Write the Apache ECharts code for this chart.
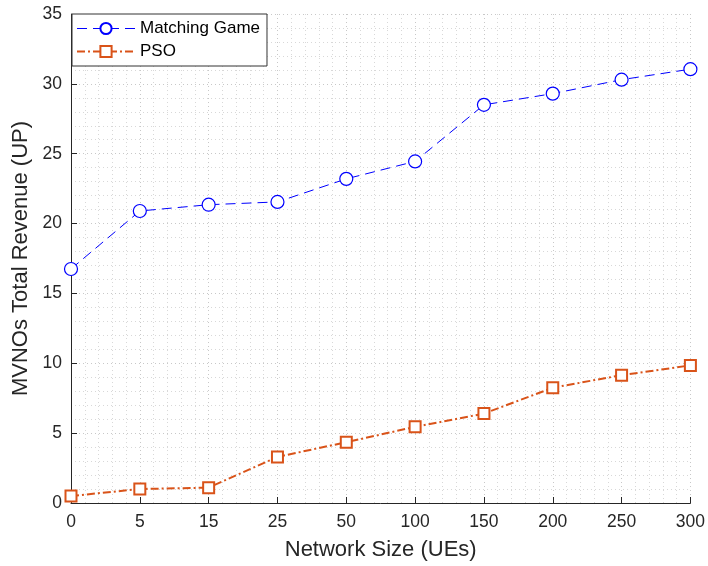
<!DOCTYPE html>
<html><head><meta charset="utf-8">
<script src="https://cdn.jsdelivr.net/npm/echarts@6/dist/echarts.min.js"></script>
<style>html,body{margin:0;padding:0;background:#fff}#c{width:708px;height:566px}</style>
</head><body><div id="c"></div>
<script>
const categories = ['0','5','15','25','50','100','150','200','250','300'];
const matchingGame = [16.75, 20.9, 21.35, 21.55, 23.2, 24.45, 28.5, 29.3, 30.3, 31.05];
const pso = [0.5, 1.0, 1.1, 3.3, 4.35, 5.45, 6.4, 8.25, 9.15, 9.85];
const yTicks = [0, 5, 10, 15, 20, 25, 30, 35];

const pair = arr => arr.map((v, i) => [i, v]);
const font = 'Liberation Sans, Arial, sans-serif';
const chart = echarts.init(document.getElementById('c'));
chart.setOption({
  animation: false,
  backgroundColor: '#fff',
  grid: { left: 71, right: 14, top: 14, bottom: 63, containLabel: false },
  legend: {
    left: 72, top: 14, orient: 'vertical',
    backgroundColor: '#fff', borderColor: '#333', borderWidth: 1,
    padding: [6, 7, 6, 4], itemGap: 6, itemWidth: 58, itemHeight: 14,
    textStyle: { fontFamily: font, fontSize: 17, color: '#000' },
    data: [
      { name: 'Matching Game', lineStyle: { width: 1, type: [10, 6] } },
      { name: 'PSO', lineStyle: { width: 2, type: [8, 3, 2, 3] } }
    ]
  },
  xAxis: {
    type: 'value', min: 0, max: categories.length - 1, interval: 1,
    name: 'Network Size (UEs)', nameLocation: 'middle', nameGap: 36,
    nameTextStyle: { fontFamily: font, fontSize: 22, color: '#262626' },
    axisLine: { onZero: false, lineStyle: { color: '#262626', width: 1 } },
    axisTick: { inside: true, length: 6, lineStyle: { color: '#262626' } },
    axisLabel: { fontFamily: font, fontSize: 17.5, color: '#262626', margin: 10,
      formatter: v => categories[v] !== undefined ? categories[v] : '' },
    splitLine: { show: true, lineStyle: { type: [1, 3], color: '#c8c8c8' } },
    minorTick: { show: false, splitNumber: 5 },
    minorSplitLine: { show: true, lineStyle: { type: [1, 3], color: '#d8d8d8' } }
  },
  yAxis: {
    type: 'value', min: yTicks[0], max: yTicks[yTicks.length - 1], interval: 5,
    name: 'MVNOs Total Revenue (UP)', nameLocation: 'middle', nameGap: 32,
    nameTextStyle: { fontFamily: font, fontSize: 22, color: '#262626' },
    axisLine: { show: true, lineStyle: { color: '#262626', width: 1 } },
    axisTick: { show: true, inside: true, length: 6, lineStyle: { color: '#262626' } },
    axisLabel: { fontFamily: font, fontSize: 17.5, color: '#262626', margin: 9 },
    splitLine: { show: true, lineStyle: { type: [1, 3], color: '#c8c8c8' } },
    minorTick: { show: false, splitNumber: 5 },
    minorSplitLine: { show: true, lineStyle: { type: [1, 3], color: '#d8d8d8' } }
  },
  series: [
    {
      name: 'Matching Game', type: 'line', data: pair(matchingGame),
      symbol: 'circle', symbolSize: 13, showAllSymbol: true,
      lineStyle: { color: '#0000ff', width: 1, type: [10, 6] },
      itemStyle: { color: '#fff', borderColor: '#0000ff', borderWidth: 1.2 },
      z: 3
    },
    {
      name: 'PSO', type: 'line', data: pair(pso),
      symbol: 'rect', symbolSize: 11, showAllSymbol: true,
      lineStyle: { color: '#d95319', width: 2, type: [8, 3, 2, 3] },
      itemStyle: { color: '#fff', borderColor: '#d95319', borderWidth: 2 },
      z: 3
    }
  ]
});
</script></body></html>
